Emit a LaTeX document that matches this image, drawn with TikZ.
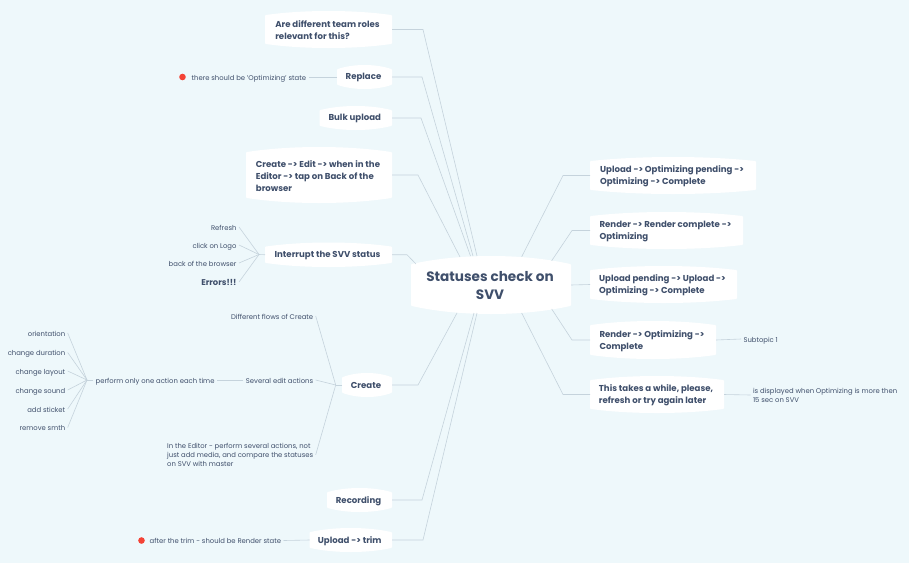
\documentclass[tikz,border=0pt]{standalone}
\usepackage{fontspec}
\setmainfont{Poppins}
\definecolor{paper}{HTML}{EEF8FB}
\definecolor{ink}{HTML}{3F4F6B}
\definecolor{wire}{HTML}{C5D3DC}
\definecolor{dot}{HTML}{F44336}
\tikzset{
    topicframe/.style={inner sep=0pt,outer sep=0pt},
    topic/.style={inner sep=0pt,outer sep=0pt,align=left,text=ink,font=\fontsize{8.6}{12}\selectfont\bfseries},
    hubtext/.style={align=center,font=\fontsize{13.6}{18}\selectfont\bfseries},
    leaf/.style={inner sep=0pt,outer sep=2.5pt,align=left,text=ink,text height=6.5pt,text depth=0.5pt,font=\fontsize{6.85}{9}\selectfont},
    leaflines/.style={text height=,text depth=},
    link/.style={draw=wire,line width=0.6pt},
    redmark/.style={circle,fill=dot,inner sep=0pt,minimum size=6.6pt}
}
% name, left, right, top, bottom, bulge, text
\newcommand{\topicbox}[8][]{
    \pgfmathsetmacro{\boxw}{#4-#3}
    \pgfmathsetmacro{\boxh}{#6-#5}
    \filldraw[white,line width=2pt,line join=round] (#3+1,#5+1+#7) .. controls (#3+0.3*\boxw,#5+1-#7/3) and (#4-0.3*\boxw,#5+1-#7/3) .. (#4-1,#5+1+#7)
        -- (#4-1,#6-1-#7) .. controls (#4-0.3*\boxw,#6-1+#7/3) and (#3+0.3*\boxw,#6-1+#7/3) .. (#3+1,#6-1-#7) -- cycle;
    \node[topicframe,minimum width=\boxw pt,minimum height=\boxh pt] (#2) at ({(#3+#4)/2},{(#5+#6)/2}) {};
    \node[topic,xshift=-1pt,yshift=-0.8pt,#1] (#2 text) at (#2) {#8};
}
\begin{document}
\begin{tikzpicture}[x=1pt,y=-1pt]
    \fill[paper] (0,0) rectangle (909,563);
    \useasboundingbox (0,0) rectangle (909,563);

    \topicbox[hubtext]{hub}{411}{571}{256}{314}{8}{Statuses check on\\SVV}

    \topicbox{roles}{265}{392}{11}{48}{4}{Are different team roles\\relevant for this?}
    \topicbox{replace}{337}{392}{65}{89}{4}{Replace}
    \topicbox{bulk}{319.5}{392}{106}{130}{4}{Bulk upload}
    \topicbox{editback}{246}{392}{147}{203}{5}{Create -> Edit -> when in the\\Editor -> tap on Back of the\\browser}
    \topicbox{interrupt}{265}{392}{242.5}{267}{4}{Interrupt the SVV status}
    \topicbox{create}{342}{392}{373}{397}{4}{Create}
    \topicbox{recording}{327}{392}{488}{512}{4}{Recording}
    \topicbox{trim}{309.5}{392}{528}{552}{4}{Upload -> trim}

    \topicbox{upload}{590}{756}{157}{194}{4}{Upload -> Optimizing pending ->\\Optimizing -> Complete}
    \topicbox{render}{590}{743}{212}{249}{4}{Render -> Render complete ->\\Optimizing}
    \topicbox{pending}{590}{737}{266}{303}{4}{Upload pending -> Upload ->\\Optimizing -> Complete}
    \topicbox{renderopt}{590}{716}{321}{359}{4}{Render -> Optimizing ->\\Complete}
    \topicbox{awhile}{590}{724}{376}{413}{4}{This takes a while, please,\\refresh or try again later}

    \node[leaf,anchor=east] (optstate) at (308.5,77) {there should be 'Optimizing' state};
    \node[redmark] (optdot) at (182.5,77) {};
    \node[leaf,anchor=east] (refresh) at (239,227) {Refresh};
    \node[leaf,anchor=east] (logo) at (239,245) {click on Logo};
    \node[leaf,anchor=east] (backbrowser) at (239,263) {back of the browser};
    \node[leaf,anchor=east,font=\fontsize{8.4}{9}\selectfont\bfseries] (errors) at (239,282) {Errors!!!};
    \node[leaf,anchor=east] (flows) at (315.7,316) {Different flows of Create};
    \node[leaf,anchor=east] (several) at (315.7,380) {Several edit actions};
    \node[leaf,leaflines,anchor=east] (editor) at (315.7,454.8) {In the Editor - perform several actions, not\\just add media, and compare the statuses\\on SVV with master};
    \node[leaf,anchor=east] (oneaction) at (217,380) {perform only one action each time};
    \node[leaf,anchor=east] (orientation) at (67.7,333) {orientation};
    \node[leaf,anchor=east] (duration) at (67.7,352.5) {change duration};
    \node[leaf,anchor=east] (layout) at (67.7,371) {change layout};
    \node[leaf,anchor=east] (sound) at (67.7,390) {change sound};
    \node[leaf,anchor=east] (sticket) at (67.7,409) {add sticket};
    \node[leaf,anchor=east] (smth) at (67.7,427.5) {remove smth};
    \node[leaf,anchor=east] (trimstate) at (283.5,540.5) {after the trim - should be Render state};
    \node[redmark] (trimdot) at (141.5,540.5) {};
    \node[leaf,anchor=west] (subtopic) at (741,339) {Subtopic 1};
    \node[leaf,leaflines,anchor=west] (displayed) at (750.5,395) {is displayed when Optimizing is more then\\15 sec on SVV};

    \foreach \n/\e/\x/\y in {roles/31/477/256,replace/30/473/256,bulk/29/470.5/256,editback/26/460/257,interrupt/15/416/264,create/26/457/313,recording/30/474/313,trim/31/477/313}
    {
        \coordinate (\n end) at (\x,\y);
        \draw[link] (\n.east) -- ++(\e,0) -- (\n end);
    }
    \foreach \n/\e/\x/\y in {upload/27/521.7/256.7,render/18/551.7/260.7,renderopt/18/551.7/309,awhile/27/521.7/313}
    {
        \coordinate (\n end) at (\x,\y);
        \draw[link] (\n.west) -- ++(-\e,0) -- (\n end);
    }
    \draw[link] (hub.east) -- (pending.west);
    \draw[link] (replace.west) -- (optstate.east);
    \draw[link] (trim.west) -- (trimstate.east);
    \draw[link] (renderopt.east) -- (subtopic.west);
    \draw[link] (awhile.east) -- (displayed.west);
    \draw[link] (several.west) -- (oneaction.east);

    \coordinate (interruptfork) at (259,254.5);
    \draw[link] (interrupt.west) -- (interruptfork);
    \foreach \n in {refresh,logo,backbrowser,errors}
        \draw[link] (interruptfork) -- (\n.east);

    \coordinate (createfork) at (335.7,385);
    \draw[link] (create.west) -- (createfork);
    \foreach \n in {flows,several,editor}
        \draw[link] (createfork) -- (\n.east);

    \coordinate (actionfork) at (87,380);
    \draw[link] (oneaction.west) -- (actionfork);
    \foreach \n in {orientation,duration,layout,sound,sticket,smth}
        \draw[link] (actionfork) -- (\n.east);
\end{tikzpicture}
\end{document}
